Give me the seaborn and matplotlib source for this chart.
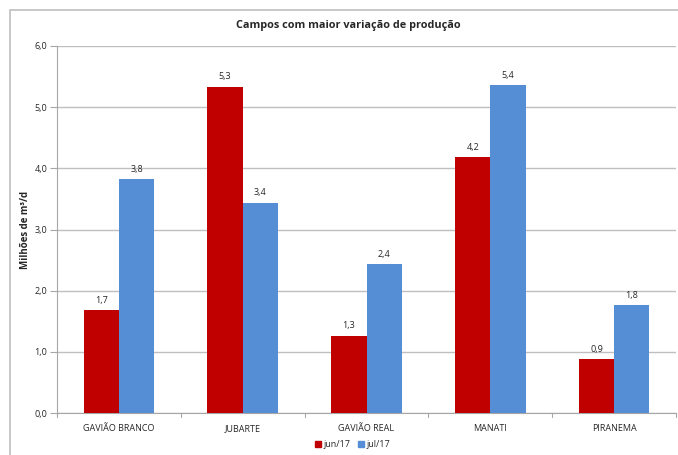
import matplotlib
matplotlib.use("Agg")
import matplotlib.pyplot as plt
import matplotlib.patches as mpatches
import pandas as pd
import seaborn as sns

# Data
campos = ["GAVIÃO BRANCO", "JUBARTE", "GAVIÃO REAL", "MANATI", "PIRANEMA"]
jun17 = [1.68, 5.33, 1.26, 4.18, 0.88]
jul17 = [3.82, 3.44, 2.43, 5.36, 1.76]
series = ["jun/17", "jul/17"]
cores = ["#C00000", "#558ED5"]
yticks = [0, 1, 2, 3, 4, 5, 6]

df = pd.DataFrame({
    "campo": campos * 2,
    "valor": jun17 + jul17,
    "mes": [series[0]] * len(campos) + [series[1]] * len(campos),
})

sns.set_style("white")
plt.rcParams["font.family"] = ["Open Sans", "DejaVu Sans"]
txt = "#262626"

fig = plt.figure(figsize=(6.78, 4.55), dpi=100)
ax = fig.add_axes([57 / 678, 42 / 455, 619 / 678, 367 / 455])

sns.barplot(data=df, x="campo", y="valor", hue="mes", palette=cores,
            width=0.57, saturation=1, ax=ax, legend=False, zorder=3,
            linewidth=0)

# value labels
for cont in ax.containers:
    ax.bar_label(cont, labels=[f"{b.get_height():.1f}".replace(".", ",") for b in cont],
                 padding=4, fontsize=6.5, color=txt)

ax.set_ylim(0, 6)
ax.set_yticks(yticks)
ax.set_yticklabels([f"{v:.1f}".replace(".", ",") for v in yticks], fontsize=6.5, color=txt)
ax.set_xlim(-0.5, len(campos) - 0.5)
ax.set_xticks(range(len(campos)))
ax.set_xticklabels(campos, fontsize=6.5, color=txt)
ax.tick_params(axis="x", length=0, pad=8)
ax.tick_params(axis="y", length=5, color="#A6A6A6", width=0.8, pad=2, left=True)

# small separators between categories
for i in range(len(campos) + 1):
    ax.plot([i - 0.5, i - 0.5], [0, -0.06], color="#A6A6A6", lw=0.8, clip_on=False)

ax.grid(axis="y", color="#BFBFBF", lw=1, zorder=0)
for s in ["top", "right"]:
    ax.spines[s].set_visible(False)
for s in ["left", "bottom"]:
    ax.spines[s].set_color("#A6A6A6")
    ax.spines[s].set_linewidth(0.8)

ax.set_xlabel("")
ax.set_ylabel("Milhões de m³/d", fontsize=7, fontweight="bold", color=txt)
ax.yaxis.set_label_coords(-0.042, 0.5)

fig.text(0.513, 0.945, "Campos com maior variação de produção", ha="center",
         va="center", fontsize=7.8, fontweight="bold", color=txt)

handles = [mpatches.Patch(color=c, label=s) for c, s in zip(cores, series)]
fig.legend(handles=handles, loc="center", bbox_to_anchor=(0.52, 0.022), ncol=2,
           frameon=False, fontsize=6.5, handlelength=0.7, handleheight=0.7,
           handletextpad=0.3, columnspacing=0.8)

# outer chart border (right and bottom edges fall outside the image)
fig.patches.append(mpatches.Rectangle((10 / 678, -0.05), 0.99, (455 - 10) / 455 + 0.05,
                                      transform=fig.transFigure, fill=False,
                                      edgecolor="#BFBFBF", lw=1.2))

fig.savefig("out.png", dpi=100)
